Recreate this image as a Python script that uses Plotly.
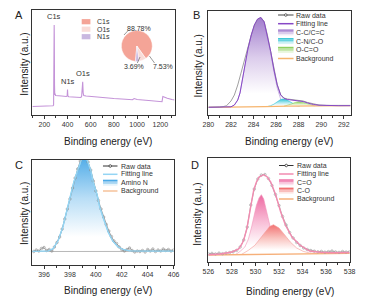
import plotly.graph_objects as go

# page is drawn with the browser's default 8px body margin; the figure is sized to fill the rest
W, H = 374, 304
OFF = 8
FW, FH = W - OFF, H - OFF
FONT = "Liberation Sans, Arial, Helvetica, sans-serif"

# ---------------- Panel A : survey spectrum ----------------
survey_energy = [97, 150, 200, 250, 275, 280, 282, 284, 285, 286, 288, 290, 293, 297, 310, 350, 390, 397,
                 400, 403, 410, 460, 515, 522, 527, 531, 535, 540, 560, 600, 700, 800, 900, 960, 975, 990,
                 1000, 1100, 1200, 1215, 1222, 1230, 1260, 1300, 1323]
survey_intensity = [8.5, 8.5, 8.6, 8.8, 9.2, 10, 30, 80, 90, 80, 30, 20, 21.5, 19.5, 19.5, 19, 18.5, 19,
                    25.5, 19, 18.3, 18, 17.5, 19, 25, 33.3, 22, 19.5, 19, 18.5, 17.5, 16.5, 15.8, 15.2, 16.5, 15.8,
                    15.5, 14.5, 13.5, 13.3, 18.5, 18, 16.8, 15.5, 15]
peak_names = ["C1s", "N1s", "O1s"]
peak_energy = [285, 400, 531]
peak_intensity = [90, 25.5, 33.3]
pie_labels = ["C1s", "O1s", "N1s"]
pie_values = [88.78, 7.53, 3.69]
pie_text = ["88.78%", "7.53%", "3.69%"]

# ---------------- Panel B : C1s ----------------
b_raw_energy = [280.0, 280.5, 281.0, 281.3, 281.6, 282.0, 282.3, 282.6, 282.9, 283.2, 283.5, 283.8, 284.07,
                284.36, 284.65, 284.94, 285.23, 285.52, 285.81, 286.1, 286.4, 286.7, 287.0, 287.5, 288.0,
                288.4, 288.8, 289.3, 289.8, 290.5, 291.5, 292.6]
b_raw_int = [7.9, 7.8, 8.0, 8.4, 9.2, 14, 20, 30, 43, 55, 68, 80, 89, 95.5, 97.5, 93.5, 80, 63.5, 45.5,
             30.5, 20.5, 17, 16, 15.5, 15, 14, 12.5, 11, 10, 9.6, 9.5, 9.6]
b_fit_energy = [280.0, 281.0, 281.6, 282.0, 282.3, 282.6, 282.8, 283.05, 283.3, 283.5, 283.8, 284.07, 284.36,
                284.65, 284.94, 285.23, 285.52, 285.81, 286.1, 286.4, 286.7, 287.0, 287.5, 288.0, 288.4,
                288.8, 289.3, 289.8, 290.5, 291.5, 292.6]
b_fit_int = [7.7, 7.75, 7.9, 8.2, 10, 15, 22, 38, 53, 66, 80, 90, 96, 97.5, 93, 79.5, 63.5, 45, 30, 20,
             16.5, 15.5, 15, 14.5, 13.5, 12, 10.5, 9.8, 9.4, 9.3, 9.3]
b_cc_energy = [281.6, 282.0, 282.3, 282.6, 282.8, 283.05, 283.3, 283.5, 283.8, 284.07, 284.36, 284.65,
               284.94, 285.23, 285.52, 285.81, 286.1, 286.4, 286.7, 287.0, 287.5, 288.0]
b_cc_int = [7.9, 8.2, 10, 15, 22, 38, 53, 66, 80, 90, 96, 97.5, 93, 79, 62, 43, 27, 16, 11.5, 9.6, 8.9, 8.7]
b_cn_energy = [285.2, 285.5, 285.8, 286.1, 286.4, 286.6, 286.9, 287.2, 287.5, 287.8, 288.1]
b_cn_int = [8.4, 9.2, 10.8, 13.2, 15.5, 16.0, 15.4, 13.5, 11.2, 9.6, 8.8]
b_oco_energy = [286.7, 287.0, 287.3, 287.7, 288.0, 288.4, 288.8, 289.1, 289.4]
b_oco_int = [8.8, 9.6, 10.8, 12.6, 13.3, 12.6, 11.0, 9.8, 9.1]
b_bg_energy = [280.0, 283.0, 285.0, 287.0, 292.6]
b_bg_int = [7.7, 7.8, 8.3, 8.8, 9.3]

# ---------------- Panel C : N1s ----------------
c_raw_energy = [395.2, 395.4, 395.6, 395.8, 396.0, 396.2, 396.4, 396.6, 396.8, 397.0, 397.2, 397.4, 397.6,
                397.8, 398.0, 398.2, 398.4, 398.6, 398.8, 399.0, 399.2, 399.4, 399.6, 399.8, 400.0, 400.2,
                400.4, 400.6, 400.8, 401.0, 401.2, 401.4, 401.6, 401.8, 402.0, 402.2, 402.4, 402.6, 402.8,
                403.0, 403.2, 403.4, 403.6, 403.8, 404.0, 404.2, 404.4, 404.6, 404.8, 405.0, 405.2, 405.4,
                405.6, 405.8, 406.0]
c_raw_int = [13.5, 15.0, 14.0, 16.5, 17.5, 14.5, 15.5, 14.0, 18.0, 22.5, 28.0, 36.0, 46.0, 56.0, 66.0, 77.0,
             87.0, 96.0, 104.0, 109.0, 109.0, 103.0, 95.0, 84.0, 74.0, 64.5, 56.0, 48.0, 40.5, 34.0, 28.5,
             24.0, 21.5, 18.0, 15.5, 14.0, 15.5, 17.0, 14.5, 13.0, 14.0, 13.5, 14.5, 13.0, 15.5, 14.0, 16.0,
             13.5, 15.0, 14.0, 16.0, 14.5, 15.5, 14.0, 15.0]
c_fit_energy = [395.1, 396.3, 396.7, 397.1, 397.45, 397.8, 398.1, 398.3, 398.6, 398.9, 399.1, 399.3, 399.6,
                399.8, 400.1, 400.3, 400.6, 400.95, 401.3, 401.7, 402.1, 402.6, 403.5, 406.0]
c_fit_int = [13.7, 13.8, 16.3, 24.7, 38, 56, 70, 83, 95, 106, 110, 106, 95, 83, 70, 58, 46, 33, 24, 18.3,
             15.5, 14.2, 13.8, 13.8]
c_amino_energy = c_fit_energy
c_amino_int = c_fit_int
c_bg_energy = [395.1, 406.0]
c_bg_int = [13.5, 13.6]

# ---------------- Panel D : O1s ----------------
d_raw_energy = [526.0, 526.3, 526.6, 526.9, 527.2, 527.5, 527.8, 528.1, 528.4, 528.7, 529.0, 529.3, 529.6,
                529.9, 530.2, 530.5, 530.8, 531.1, 531.4, 531.7, 532.0, 532.3, 532.6, 532.9, 533.2, 533.5,
                533.8, 534.1, 534.4, 534.7, 535.0, 535.3, 535.6, 535.9, 536.2, 536.5, 536.8, 537.1, 537.4,
                537.7, 538.0]
d_raw_int = [8.2, 8.6, 8.0, 8.9, 8.3, 9.0, 9.4, 10.2, 11.6, 15, 22, 35, 57, 73, 83, 87, 87.5, 83.5, 76.5,
             67.5, 56.5, 45.5, 37, 29.5, 24, 19.5, 16.5, 14, 12.5, 11.5, 10.8, 10.2, 10.6, 9.8, 10.4, 11.0,
             10.1, 9.6, 10.5, 9.9, 10.2]
d_fit_energy = [526.0, 527.0, 528.0, 528.57, 528.85, 529.0, 529.26, 529.45, 529.67, 529.85, 530.08, 530.3,
                530.7, 531.0, 531.3, 531.73, 532.14, 532.55, 533.1, 533.8, 534.6, 535.5, 536.5, 538.0]
d_fit_int = [7.3, 8.0, 10, 13, 18, 22, 33, 47, 63, 72, 80, 85, 87.3, 85, 80, 66.7, 50, 36.7, 25, 16.7, 11,
             9.8, 9.3, 9.5]
d_co_double_energy = [528.3, 528.7, 529.1, 529.4, 529.67, 530.08, 530.3, 530.5, 530.7, 530.9, 531.18, 531.45,
                      531.86, 532.4, 532.9]
d_co_double_int = [7.4, 10.7, 15, 23, 35, 56.7, 64, 67.3, 63, 53, 38, 25, 15, 10.7, 8.4]
d_co_single_energy = [528.8, 529.4, 529.95, 530.5, 530.9, 531.2, 531.53, 532.0, 532.4, 532.96, 533.5, 534.05,
                      534.6, 535.2]
d_co_single_int = [7.5, 11.7, 16.7, 25, 31.7, 35.5, 37.3, 34, 28.3, 20, 14, 10.7, 9, 8.4]
d_bg_energy = [526.0, 529.0, 531.0, 533.0, 538.0]
d_bg_int = [7.0, 7.3, 7.8, 8.3, 8.7]


# ---------------- helpers (page pixel -> paper fraction) ----------------
def PX(x):
    return (x - OFF) / FW


def PY(y):
    return 1 - (y - OFF) / FH


def hex2rgb(c):
    c = c.lstrip('#')
    return tuple(int(c[i:i + 2], 16) for i in (0, 2, 4))


def mix(c1, c2, t):
    a, b = hex2rgb(c1), hex2rgb(c2)
    return 'rgb(%d,%d,%d)' % tuple(round(a[i] + (b[i] - a[i]) * t) for i in range(3))


fig = go.Figure()
shapes = []
annotations = []


def line_trace(x, y, color, width, ax, markers=False):
    fig.add_trace(go.Scatter(
        x=x, y=y, mode='lines+markers' if markers else 'lines',
        line=dict(color=color, width=width),
        marker=dict(symbol='circle-open', size=2.5, color=color, line=dict(width=0.6)),
        xaxis='x' + ax, yaxis='y' + ax, showlegend=False, hoverinfo='skip'))


def fill_trace(x, y, top, mid, ax, linecolor=None, lw=0.6):
    fig.add_trace(go.Scatter(
        x=x, y=y, mode='lines', fill='toself',
        line=dict(color=linecolor or top, width=lw),
        fillgradient=dict(type='vertical',
                          colorscale=[[0, '#ffffff'], [0.15, '#ffffff'], [0.55, mid], [1, top]]),
        xaxis='x' + ax, yaxis='y' + ax, showlegend=False, hoverinfo='skip'))


def leg_line(x0, x1, y, color, width):
    shapes.append(dict(type='line', xref='paper', yref='paper', x0=PX(x0), x1=PX(x1), y0=PY(y), y1=PY(y),
                       line=dict(color=color, width=width)))


def leg_raw(x0, x1, y, color='#444'):
    leg_line(x0, x1, y, color, 1)
    xm = (x0 + x1) / 2
    shapes.append(dict(type='circle', xref='paper', yref='paper', x0=PX(xm - 1.3), x1=PX(xm + 1.3),
                       y0=PY(y + 1.3), y1=PY(y - 1.3), line=dict(color=color, width=0.8), fillcolor='white'))


def leg_swatch(x0, x1, y, h, top, bottom, n=4):
    for i in range(n):
        ya = y - h / 2 + i * h / n
        shapes.append(dict(type='rect', xref='paper', yref='paper', x0=PX(x0), x1=PX(x1),
                           y0=PY(ya), y1=PY(ya + h / n), line=dict(width=0),
                           fillcolor=mix(top, bottom, i / (n - 1))))


def text(x, y, s, size=7, anchor='left', angle=0, color='#333'):
    annotations.append(dict(x=PX(x), y=PY(y), xref='paper', yref='paper', text=s, showarrow=False,
                            xanchor=anchor, yanchor='middle', textangle=angle,
                            font=dict(size=size, color=color, family=FONT)))


# ---------------- Panel A ----------------
line_trace(survey_energy, survey_intensity, '#c493d8', 1.1, '')
for n, e, v in zip(peak_names, peak_energy, peak_intensity):
    annotations.append(dict(x=e, y=v, xref='x', yref='y', text=n, showarrow=False, yanchor='bottom',
                            yshift=2, font=dict(size=7.5, color='#333', family=FONT)))
pie_colors = ['#f4a497', '#f9dcd8', '#c9b8e0']
fig.add_trace(go.Pie(labels=pie_labels, values=pie_values, sort=False, direction='clockwise', rotation=185,
                     marker=dict(colors=pie_colors, line=dict(color='white', width=0.5)),
                     textinfo='none', hoverinfo='skip', showlegend=False,
                     domain=dict(x=[PX(119), PX(151)], y=[PY(62), PY(30)])))
for i, (lab, col) in enumerate(zip(pie_labels, pie_colors)):
    yy = 21.7 + i * 7.5
    shapes.append(dict(type='rect', xref='paper', yref='paper', x0=PX(78), x1=PX(87), y0=PY(yy + 2.6),
                       y1=PY(yy - 2.6), line=dict(width=0), fillcolor=col))
    text(92, yy, lab)
text(137.5, 28.3, pie_text[0], anchor='center')
text(161.7, 66.7, pie_text[1], anchor='center')
text(132.5, 66.7, pie_text[2], anchor='center')
for (x0, y0, x1, y1) in [(121.7, 35, 126, 30.5), (138.3, 57, 135.5, 63), (148, 56, 153.3, 63)]:
    shapes.append(dict(type='line', xref='paper', yref='paper', x0=PX(x0), y0=PY(y0), x1=PX(x1), y1=PY(y1),
                       line=dict(color='#555', width=0.6)))

# ---------------- Panel B ----------------
fill_trace(b_cc_energy, b_cc_int, '#a17ccd', '#dccdec', '2', linecolor='#b08fd6')
fill_trace(b_cn_energy, b_cn_int, '#2cc3d4', '#a6e6ee', '2')
fill_trace(b_oco_energy, b_oco_int, '#8fd060', '#c9ebb0', '2')
line_trace(b_bg_energy, b_bg_int, '#f6b56e', 1.2, '2')
line_trace(b_raw_energy, b_raw_int, '#a0a0a0', 1.0, '2')
line_trace(b_fit_energy, b_fit_int, '#8748c6', 1.0, '2')

# ---------------- Panel C ----------------
fill_trace(c_amino_energy, c_amino_int, '#4aa9e7', '#b9def6', '3', linecolor='#8ed3f4', lw=1.2)
line_trace(c_bg_energy, c_bg_int, '#b8b8b8', 1.0, '3')
line_trace(c_raw_energy, c_raw_int, '#8c8c8c', 0.8, '3', markers=True)
line_trace(c_fit_energy, c_fit_int, '#94d5f4', 1.3, '3')

# ---------------- Panel D ----------------
fill_trace(d_co_double_energy, d_co_double_int, '#ee6aa2', '#f8bdd6', '4', linecolor='#f293bb')
fill_trace(d_co_single_energy, d_co_single_int, '#f27272', '#f9c3bf', '4', linecolor='#f39a9a')
line_trace(d_bg_energy, d_bg_int, '#f6b07a', 1.3, '4')
line_trace(d_raw_energy, d_raw_int, '#9a9a9a', 0.8, '4', markers=True)
line_trace(d_fit_energy, d_fit_int, '#f28bb0', 1.4, '4')

# ---------------- legends ----------------
by = [15, 23.7, 32.4, 41.1, 49.8, 58.5]
leg_raw(281, 297, by[0])
leg_line(281, 297, by[1], '#8748c6', 1.5)
leg_swatch(281, 297, by[2], 6, '#a17ccd', '#f1eaf7')
leg_swatch(281, 297, by[3], 6, '#2cc3d4', '#d6f3f6')
leg_swatch(281, 297, by[4], 6, '#8fd060', '#e6f5d8')
leg_line(281, 297, by[5], '#f6b56e', 1.5)
for s, y in zip(["Raw data", "Fitting line", "C-C/C=C", "C-N/C-O", "O-C=O", "Background"], by):
    text(298, y, s)

cy = [166, 174.3, 182.7, 191]
leg_raw(100, 115, cy[0], '#333')
leg_line(100, 115, cy[1], '#94d5f4', 1.5)
leg_swatch(100, 115, cy[2], 6, '#4aa9e7', '#e2f2fb')
leg_line(100, 115, cy[3], '#f6c29a', 1.5)
for s, y in zip(["Raw data", "Fitting line", "Amino N", "Background"], cy):
    text(117, y, s)

dy = [165.5, 174, 182.3, 190.6, 199]
leg_raw(282, 297, dy[0], '#333')
leg_line(282, 297, dy[1], '#f28bb0', 1.5)
leg_swatch(282, 297, dy[2], 6, '#ee6aa2', '#fbe2ee')
leg_swatch(282, 297, dy[3], 6, '#f27272', '#fde4e1')
leg_line(282, 297, dy[4], '#f6b07a', 1.5)
for s, y in zip(["Raw data", "Fitting line", "C=O", "C-O", "Background"], dy):
    text(299, y, s)

# ---------------- titles / panel letters ----------------
for L, x, y in [("A", 13, 15), ("B", 197, 15), ("C", 13, 165), ("D", 195, 165)]:
    text(x, y, L, size=11, anchor='center', color='#222')
for x, y in [(105, 141.7), (292.8, 141.7), (104.7, 290), (293.3, 291)]:
    text(x, y, "Binding energy (eV)", size=10, anchor='center', color='#222')
for x, y in [(18, 64), (198.7, 66), (18.3, 213), (197, 214)]:
    text(x, y, "Intensity (a.u.)", size=10, anchor='center', angle=-90, color='#222')


# ---------------- axes ----------------
def xax(domain, rng, dtick, minor_dtick, anchor):
    return dict(domain=domain, range=rng, anchor=anchor, showline=True, linecolor='#333', linewidth=1,
                mirror=True, ticks='outside', ticklen=3, tickwidth=1, tickcolor='#333', dtick=dtick, tick0=0,
                tickfont=dict(size=7, color='#333', family=FONT), showgrid=False, zeroline=False,
                minor=dict(ticks='outside', ticklen=2, dtick=minor_dtick, tick0=0, tickcolor='#333',
                           tickwidth=1, showgrid=False))


def yax(domain, rng, anchor):
    return dict(domain=domain, range=rng, anchor=anchor, showline=True, linecolor='#333', linewidth=1,
                mirror=True, ticks='', showticklabels=False, showgrid=False, zeroline=False)


fig.update_layout(
    width=FW, height=FH, autosize=False, margin=dict(l=0, r=0, t=0, b=0),
    paper_bgcolor='white', plot_bgcolor='white', showlegend=False,
    font=dict(family=FONT, color='#333'),
    xaxis=xax([PX(27), PX(174)], [97, 1323], 200, 100, 'y'),
    yaxis=yax([PY(115), PY(10)], [0, 105], 'x'),
    xaxis2=xax([PX(209), PX(356)], [280, 292.6], 2, 1, 'y2'),
    yaxis2=yax([PY(115), PY(11)], [0, 104], 'x2'),
    xaxis3=xax([PX(27), PX(173)], [395.1, 406], 2, 1, 'y3'),
    yaxis3=yax([PY(265), PY(160)], [0, 105], 'x3'),
    xaxis4=xax([PX(209), PX(355)], [526, 538], 2, 1, 'y4'),
    yaxis4=yax([PY(262), PY(158)], [0, 104], 'x4'),
    shapes=shapes, annotations=annotations,
)

fig.write_html("out.html")
